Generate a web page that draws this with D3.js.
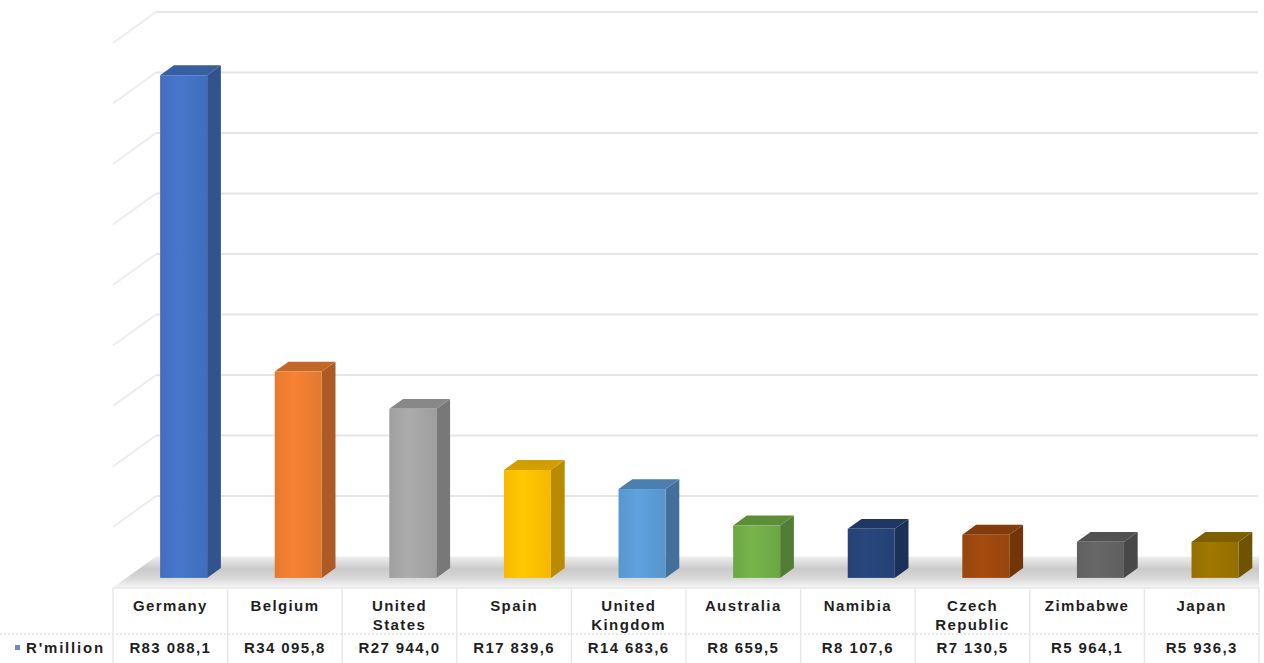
<!DOCTYPE html>
<html>
<head>
<meta charset="utf-8">
<script src="https://cdn.jsdelivr.net/npm/d3@7"></script>
<style>
  body { margin: 0; background: #fff; }
  svg { display: block; }
  .tbl text { font-family: "Liberation Sans", Arial, sans-serif; font-weight: bold; font-size: 15px; letter-spacing: 1.4px; fill: #1f1f1f; }
</style>
</head>
<body>
<svg id="chart" width="1264" height="663"></svg>
<script>
// data
const seriesName = "R'million";
const categories = ["Germany", "Belgium", "United States", "Spain", "United Kingdom",
    "Australia", "Namibia", "Czech Republic", "Zimbabwe", "Japan"];
const values = [83088.1, 34095.8, 27944.0, 17839.6, 14683.6, 8659.5, 8107.6, 7130.5, 5964.1, 5936.3];
const colors = ["#4472C4", "#ED7D31", "#A5A5A5", "#FFC000", "#5B9BD5",
    "#70AD47", "#264478", "#9E480E", "#636363", "#997300"];
const yTicks = [0, 10000, 20000, 30000, 40000, 50000, 60000, 70000, 80000, 90000];

const left = 113, right = 1259;        // front plane / table columns
const zeroY = 587.5;                    // front edge of floor
const depth = [43, -31];                // full floor depth
const barDepth0 = 0.31, barDepth1 = 0.63;

const svg = d3.select("#chart");
const defs = svg.append("defs");

const x = d3.scaleBand().domain(categories).range([left, right]);
const y = d3.scaleLinear().domain([0, 90000]).range([zeroY, zeroY - 544.5]);
const barW = 47;

const fmt = d3.formatLocale({ decimal: ",", thousands: " ", grouping: [3], currency: ["R", ""] }).format("$,.1f");

// back wall gridlines + side wall diagonals
const grid = svg.append("g");
grid.selectAll(".gl").data(yTicks.slice(1)).enter().append("line")
    .attr("x1", left + depth[0]).attr("x2", 1258)
    .attr("y1", d => y(d) + depth[1]).attr("y2", d => y(d) + depth[1])
    .attr("stroke", "#e6e6e6").attr("stroke-width", 2.2);
grid.selectAll(".sd").data(yTicks.slice(1)).enter().append("line")
    .attr("x1", left).attr("y1", d => y(d))
    .attr("x2", left + depth[0]).attr("y2", d => y(d) + depth[1])
    .attr("stroke", "#ececec").attr("stroke-width", 1.8);

// floor
const fg = defs.append("linearGradient").attr("id", "floor")
    .attr("x1", 0).attr("y1", 1).attr("x2", 0).attr("y2", 0);
fg.append("stop").attr("offset", "0%").attr("stop-color", "#f6f6f6");
fg.append("stop").attr("offset", "30%").attr("stop-color", "#d8d8d8");
fg.append("stop").attr("offset", "60%").attr("stop-color", "#cacaca");
fg.append("stop").attr("offset", "100%").attr("stop-color", "#efefef");
svg.append("path")
    .attr("d", `M${left},${zeroY} L${right},${zeroY} L${right},${zeroY + depth[1]} L${left + depth[0]},${zeroY + depth[1]} Z`)
    .attr("fill", "url(#floor)");

// bars
const bars = svg.append("g");
values.forEach((v, i) => {
    const c = categories[i];
    const col = d3.color(colors[i]);
    const x0 = x(c) + x.bandwidth() / 2 - barW / 2 + barDepth0 * depth[0];
    const x1 = x0 + barW;
    const yb = y(0) + barDepth0 * depth[1];
    const yt = y(v) + barDepth0 * depth[1];
    const ddx = (barDepth1 - barDepth0) * depth[0], ddy = (barDepth1 - barDepth0) * depth[1];

    const gid = "bf" + i;
    const g = defs.append("linearGradient").attr("id", gid).attr("x1", 0).attr("x2", 1).attr("y1", 0).attr("y2", 0);
    g.append("stop").attr("offset", "0%").attr("stop-color", col.darker(0.1));
    g.append("stop").attr("offset", "40%").attr("stop-color", col.brighter(0.12));
    g.append("stop").attr("offset", "100%").attr("stop-color", col.darker(0.12));

    bars.append("path") // side
        .attr("d", `M${x1},${yb} L${x1 + ddx},${yb + ddy} L${x1 + ddx},${yt + ddy} L${x1},${yt} Z`)
        .attr("fill", col.darker(0.9));
    bars.append("path") // top
        .attr("d", `M${x0},${yt} L${x1},${yt} L${x1 + ddx},${yt + ddy} L${x0 + ddx},${yt + ddy} Z`)
        .attr("fill", col.darker(0.55));
    bars.append("rect") // front
        .attr("x", x0).attr("y", yt).attr("width", barW).attr("height", yb - yt)
        .attr("fill", `url(#${gid})`);
});

// data table
const tbl = svg.append("g").attr("class", "tbl");
const tTop = 588, tMid = 634, tBot = 663;
tbl.append("line").attr("x1", left).attr("x2", right).attr("y1", tTop).attr("y2", tTop)
    .attr("stroke", "#e6e6e6").attr("stroke-width", 1.5);
tbl.append("line").attr("x1", 0).attr("x2", right).attr("y1", tMid).attr("y2", tMid)
    .attr("stroke", "#e0e0e0").attr("stroke-width", 1.5).attr("stroke-dasharray", "2,2");
tbl.selectAll(".vl").data(d3.range(categories.length + 1)).enter().append("line")
    .attr("x1", i => left + i * x.bandwidth()).attr("x2", i => left + i * x.bandwidth())
    .attr("y1", tTop).attr("y2", tBot)
    .attr("stroke", "#e8e8e8").attr("stroke-width", 1.5);

categories.forEach((c, i) => {
    const cx = x(c) + x.bandwidth() / 2;
    const t = tbl.append("text").attr("text-anchor", "middle");
    c.split(" ").forEach((ln, k) => t.append("tspan").attr("x", cx).attr("y", 611 + k * 19).text(ln));
    tbl.append("text").attr("text-anchor", "middle").attr("x", cx).attr("y", 653).text(fmt(values[i]));
});

tbl.append("rect").attr("x", 15).attr("y", 645).attr("width", 5).attr("height", 5).attr("fill", "#7486cf");
tbl.append("text").attr("x", 26).attr("y", 653).style("letter-spacing", "1.8px").text(seriesName);
</script>
</body>
</html>
